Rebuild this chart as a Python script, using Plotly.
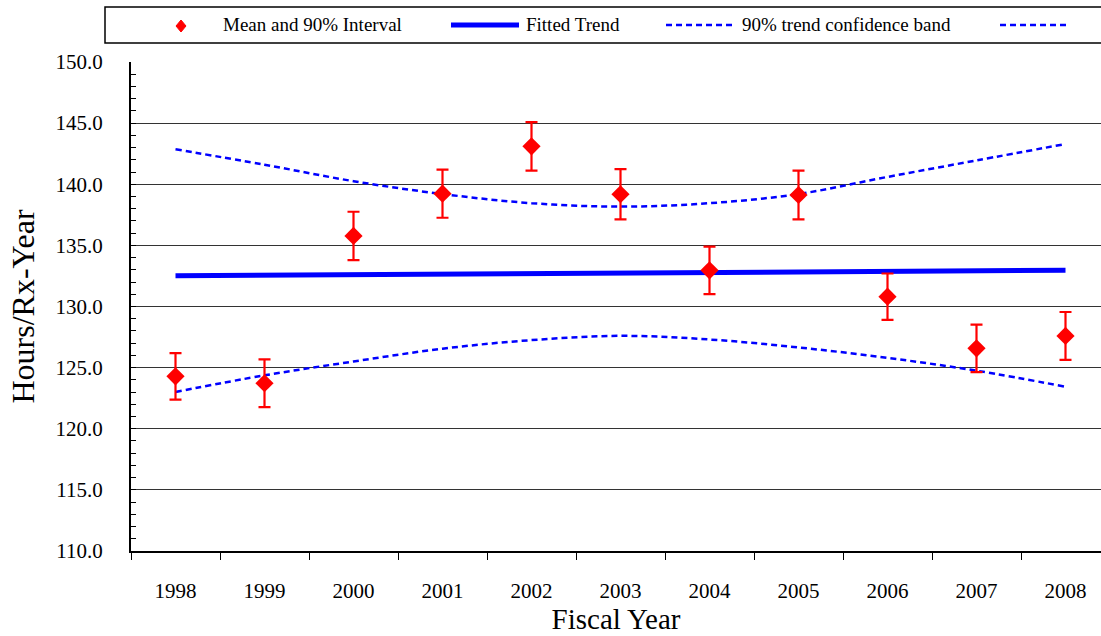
import plotly.graph_objects as go

years = ["1998", "1999", "2000", "2001", "2002", "2003", "2004", "2005", "2006", "2007", "2008"]
means = [124.29, 123.72, 135.77, 139.23, 143.10, 139.18, 132.96, 139.12, 130.80, 126.58, 127.59]
err90 = [1.90, 1.95, 1.98, 1.97, 1.98, 2.05, 1.94, 1.99, 1.90, 1.94, 1.96]
trend = [132.52, 132.56, 132.61, 132.65, 132.70, 132.74, 132.78, 132.83, 132.87, 132.92, 132.96]
band_upper = [142.86, 141.60, 140.25, 139.20, 138.45, 138.17, 138.45, 139.20, 140.60, 141.95, 143.29]
band_lower = [123.01, 124.37, 125.50, 126.55, 127.25, 127.60, 127.30, 126.65, 125.80, 124.75, 123.44]
y_ticks = [110, 115, 120, 125, 130, 135, 140, 145, 150]

RED = "#FF0000"
BLUE = "#0000FF"
FONT = "Liberation Serif"

W, H = 1101, 636
L, R, T, B = 131, 0, 62, 85
PW = W - L - R
PH = H - T - B


def px_x(px):
    return (px - L) / PW


def px_y(py):
    return (H - B - py) / PH


fig = go.Figure()

fig.add_trace(go.Scatter(
    x=years, y=band_upper, mode="lines", line=dict(color=BLUE, width=2.5, dash="6px,4px", shape="spline"),
    showlegend=False, hoverinfo="skip"))
fig.add_trace(go.Scatter(
    x=years, y=band_lower, mode="lines", line=dict(color=BLUE, width=2.5, dash="6px,4px", shape="spline"),
    showlegend=False, hoverinfo="skip"))
fig.add_trace(go.Scatter(
    x=years, y=trend, mode="lines", line=dict(color=BLUE, width=5),
    showlegend=False, hoverinfo="skip"))
fig.add_trace(go.Scatter(
    x=years, y=means, mode="markers",
    marker=dict(symbol="diamond", size=14, color=RED),
    error_y=dict(type="data", array=err90, visible=True, color=RED, thickness=2.2, width=6),
    showlegend=False))

# Manual legend (box extends past the right edge like the reference)
shapes = [
    dict(type="rect", xref="paper", yref="paper", x0=px_x(105), x1=px_x(1115), y0=px_y(43), y1=px_y(7),
         line=dict(color="#000000", width=1.5), fillcolor="white", layer="above"),
    dict(type="path", xref="paper", yref="paper", xsizemode="pixel", ysizemode="pixel",
         xanchor=px_x(181), yanchor=px_y(26), path="M 0 6 L 5 0 L 0 -6 L -5 0 Z",
         fillcolor=RED, line=dict(color=RED, width=1), layer="above"),
    dict(type="line", xref="paper", yref="paper", x0=px_x(451), x1=px_x(519), y0=px_y(25), y1=px_y(25),
         line=dict(color=BLUE, width=5), layer="above"),
    dict(type="line", xref="paper", yref="paper", x0=px_x(666), x1=px_x(733), y0=px_y(25), y1=px_y(25),
         line=dict(color=BLUE, width=2.5, dash="6px,4px"), layer="above"),
    dict(type="line", xref="paper", yref="paper", x0=px_x(1000), x1=px_x(1067), y0=px_y(25), y1=px_y(25),
         line=dict(color=BLUE, width=2.5, dash="6px,4px"), layer="above"),
]
LEG_FONT = dict(family=FONT, size=19, color="#000")
annotations = [
    dict(text="Mean and 90% Interval", xref="paper", yref="paper", x=px_x(221), y=px_y(25),
         xanchor="left", yanchor="middle", showarrow=False, font=LEG_FONT),
    dict(text="Fitted Trend", xref="paper", yref="paper", x=px_x(524), y=px_y(25),
         xanchor="left", yanchor="middle", showarrow=False, font=LEG_FONT),
    dict(text="90% trend confidence band", xref="paper", yref="paper", x=px_x(740), y=px_y(25),
         xanchor="left", yanchor="middle", showarrow=False, font=LEG_FONT),
]

fig.update_layout(
    width=W, height=H,
    margin=dict(l=L, r=R, t=T, b=B, pad=0),
    paper_bgcolor="white", plot_bgcolor="white",
    font=dict(family=FONT, color="#000000"),
    showlegend=False,
    shapes=shapes,
    annotations=annotations,
    xaxis=dict(
        type="category", categoryorder="array", categoryarray=years,
        range=[-0.5, 10.5 - 9 / 89],
        showgrid=False, zeroline=False,
        showline=True, linecolor="#000000", linewidth=2,
        ticks="outside", tickson="boundaries", ticklen=7, tickwidth=1.2, tickcolor="#000",
        ticklabelstandoff=20,
        tickfont=dict(family=FONT, size=21, color="#000"),
        title=dict(text="Fiscal Year", font=dict(family=FONT, size=29, color="#000"), standoff=6),
    ),
    yaxis=dict(
        range=[110, 150], tickvals=y_ticks, tickformat=".1f",
        showgrid=True, gridcolor="#333333", gridwidth=1.3,
        zeroline=False,
        showline=True, linecolor="#000000", linewidth=2,
        ticks="inside", ticklen=5, tickwidth=1.2, tickcolor="#000",
        minor=dict(dtick=1, ticks="inside", ticklen=5, tickwidth=1.2, tickcolor="#000", showgrid=False),
        ticklabelstandoff=22,
        tickfont=dict(family=FONT, size=21, color="#000"),
        title=dict(text="Hours/Rx-Year", font=dict(family=FONT, size=32, color="#000"), standoff=11),
    ),
)

fig.write_html("out.html", config={"displayModeBar": False},
               post_script="document.body.style.margin='0';document.body.style.overflow='hidden';")
